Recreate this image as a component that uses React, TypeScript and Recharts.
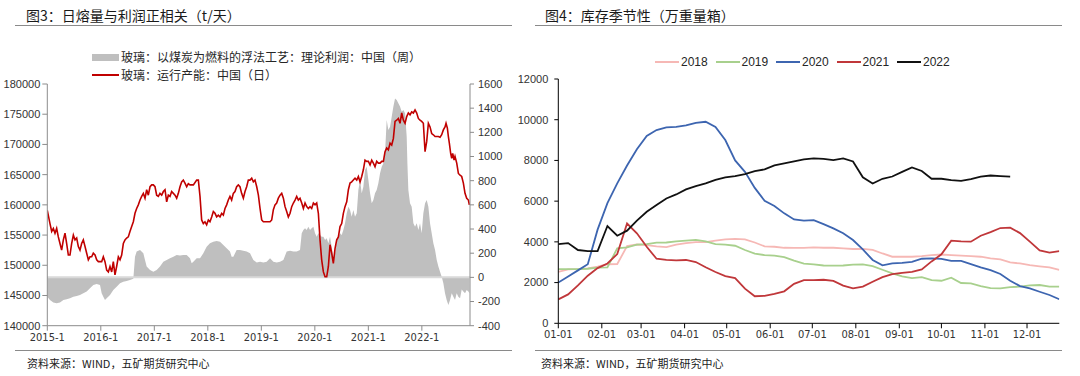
import React from 'react';
import { ComposedChart, LineChart, Line, Area, XAxis, YAxis, ReferenceLine } from 'recharts';

// ---------- Left chart data (years since 2015-01) ----------
const capYears = [
  0.000, 0.050, 0.082, 0.113, 0.144, 0.175, 0.206, 0.237, 0.268, 0.300, 0.331, 0.362, 0.393, 0.424, 0.455, 0.487,
  0.518, 0.549, 0.580, 0.611, 0.642, 0.673, 0.705, 0.736, 0.767, 0.798, 0.829, 0.860, 0.892, 0.923, 0.954, 1.016,
  1.047, 1.078, 1.110, 1.141, 1.172, 1.203, 1.234, 1.265, 1.296, 1.328, 1.359, 1.390, 1.421, 1.452, 1.483, 1.514,
  1.545, 1.577, 1.608, 1.639, 1.670, 1.701, 1.733, 1.764, 1.795, 1.826, 1.857, 1.888, 1.920, 1.951, 1.982, 2.013,
  2.044, 2.075, 2.106, 2.138, 2.169, 2.200, 2.231, 2.262, 2.293, 2.324, 2.356, 2.387, 2.418, 2.449, 2.480, 2.511,
  2.542, 2.573, 2.605, 2.636, 2.667, 2.730, 2.792, 2.823, 2.854, 2.885, 2.916, 2.947, 2.978, 3.010, 3.040, 3.072,
  3.103, 3.134, 3.165, 3.196, 3.228, 3.259, 3.290, 3.321, 3.352, 3.383, 3.414, 3.445, 3.477, 3.508, 3.539, 3.570,
  3.601, 3.632, 3.664, 3.695, 3.726, 3.757, 3.788, 3.820, 3.851, 3.882, 3.914, 3.945, 3.976, 4.007, 4.038, 4.100,
  4.163, 4.194, 4.225, 4.256, 4.287, 4.318, 4.350, 4.381, 4.412, 4.443, 4.474, 4.505, 4.537, 4.568, 4.599, 4.630,
  4.661, 4.692, 4.723, 4.755, 4.786, 4.817, 4.848, 4.879, 4.910, 4.941, 4.973, 5.004, 5.035, 5.066, 5.097, 5.128,
  5.160, 5.191, 5.222, 5.253, 5.272, 5.284, 5.315, 5.346, 5.378, 5.409, 5.440, 5.471, 5.502, 5.533, 5.564, 5.596,
  5.627, 5.658, 5.689, 5.720, 5.751, 5.783, 5.814, 5.845, 5.876, 5.907, 5.938, 5.969, 6.001, 6.032, 6.063, 6.094,
  6.125, 6.156, 6.187, 6.219, 6.250, 6.281, 6.312, 6.343, 6.374, 6.406, 6.437, 6.468, 6.499, 6.530, 6.561, 6.592,
  6.624, 6.655, 6.686, 6.717, 6.748, 6.779, 6.810, 6.842, 6.873, 6.904, 6.935, 6.966, 6.997, 7.028, 7.060, 7.091,
  7.122, 7.153, 7.184, 7.215, 7.247, 7.278, 7.309, 7.340, 7.371, 7.402, 7.433, 7.452, 7.477, 7.496, 7.514, 7.539,
  7.558, 7.577, 7.602, 7.620, 7.652, 7.683, 7.714, 7.745, 7.776, 7.807, 7.838, 7.870, 7.888,
];
const capValues = [
  159100, 156900, 155600, 156100, 155300, 156100, 154700, 153600, 152500, 154200, 155300, 153600, 151700, 151700, 153600, 155000,
  154200, 154500, 153100, 152500, 153600, 154200, 153100, 152000, 150900, 151400, 151400, 152000, 151700, 150900, 150600, 150600,
  151400, 150600, 149200, 148900, 149800, 148900, 150600, 148400, 149800, 151400, 150900, 151700, 153600, 154200, 154500, 154700,
  155600, 156400, 157200, 158600, 159400, 160000, 160800, 161400, 161900, 161100, 162500, 161600, 163000, 163300, 163300, 163000,
  161600, 161400, 161900, 161600, 162200, 162500, 160500, 161600, 161400, 162200, 161900, 161600, 161100, 161900, 163000, 163800,
  164100, 163600, 163000, 163500, 163300, 163300, 164100, 164100, 161400, 157500, 156900, 157200, 156700, 157500, 157200, 158000,
  158900, 158600, 158000, 158300, 158000, 158600, 158300, 159400, 160000, 160800, 161400, 160800, 161900, 162200, 163000, 163300,
  163000, 161900, 161100, 162200, 163000, 164100, 164100, 164400, 163800, 164100, 163000, 161600, 159400, 157500, 157200, 157200,
  157200, 157500, 159200, 160000, 160300, 161100, 161600, 161900, 161100, 159700, 158900, 158000, 158600, 159700, 160300, 160800,
  161400, 160800, 161100, 160300, 159400, 160300, 159700, 159400, 159700, 159400, 160300, 160000, 160300, 158600, 154200, 150900,
  148900, 148100, 148100, 149800, 152000, 153400, 152000, 150300, 152800, 154200, 154700, 156400, 156900, 158600, 159700, 160500,
  162500, 163600, 163800, 164100, 164400, 164100, 164700, 163800, 164700, 165800, 167400, 167200, 167200, 166600, 167400, 166900,
  166300, 167200, 166900, 166900, 167200, 167200, 168800, 169400, 169100, 170200, 169900, 171000, 173800, 174000, 174300, 173500,
  175200, 174000, 173500, 174600, 175200, 174900, 175400, 175200, 175700, 175200, 174300, 174000, 173800, 173500, 168800, 170500,
  173500, 172900, 171800, 171600, 171300, 171300, 171300, 171200, 171600, 172400, 172900, 173500, 172700, 171300, 170200, 168500,
  167700, 168500, 167400, 168000, 166900, 165200, 164900, 164700, 163600, 161900, 161100, 160800, 160000,
];

const profitYears = [
  0.000, 0.050, 0.113, 0.175, 0.237, 0.300, 0.362, 0.424, 0.487, 0.549, 0.611, 0.673, 0.736, 0.798, 0.860, 0.923,
  0.985, 1.016, 1.047, 1.078, 1.110, 1.172, 1.234, 1.296, 1.359, 1.421, 1.483, 1.545, 1.608, 1.639, 1.670, 1.733,
  1.795, 1.826, 1.857, 1.920, 1.982, 2.044, 2.106, 2.169, 2.231, 2.293, 2.356, 2.418, 2.480, 2.542, 2.605, 2.667,
  2.698, 2.730, 2.792, 2.854, 2.916, 2.978, 3.040, 3.103, 3.165, 3.228, 3.290, 3.352, 3.414, 3.445, 3.477, 3.539,
  3.601, 3.664, 3.726, 3.789, 3.851, 3.914, 3.976, 4.038, 4.100, 4.163, 4.225, 4.287, 4.350, 4.412, 4.474, 4.537,
  4.599, 4.661, 4.723, 4.755, 4.786, 4.817, 4.848, 4.879, 4.910, 4.941, 4.973, 5.004, 5.035, 5.066, 5.097, 5.128,
  5.160, 5.191, 5.222, 5.253, 5.284, 5.315, 5.346, 5.378, 5.409, 5.440, 5.471, 5.502, 5.533, 5.564, 5.596, 5.627,
  5.658, 5.689, 5.720, 5.751, 5.783, 5.814, 5.845, 5.876, 5.907, 5.938, 5.969, 6.001, 6.032, 6.063, 6.094, 6.125,
  6.156, 6.187, 6.219, 6.250, 6.281, 6.312, 6.343, 6.374, 6.406, 6.437, 6.468, 6.499, 6.530, 6.561, 6.592, 6.624,
  6.655, 6.686, 6.717, 6.730, 6.748, 6.779, 6.810, 6.842, 6.873, 6.904, 6.935, 6.966, 6.997, 7.028, 7.060, 7.091,
  7.122, 7.153, 7.184, 7.215, 7.247, 7.278, 7.309, 7.340, 7.371, 7.402, 7.433, 7.464, 7.496, 7.527, 7.558, 7.589,
  7.620, 7.651, 7.682, 7.714, 7.745, 7.776, 7.807, 7.838, 7.870, 7.888,
];
const profitValues = [
  -160, -187, -209, -215, -209, -187, -182, -173, -160, -154, -146, -132, -118, -91, -63, -55,
  -63, -132, -160, -187, -173, -146, -105, -77, -49, -36, -30, -22, -11, 171, 213, 226,
  199, 144, 89, 61, 47, 61, 89, 130, 144, 158, 171, 185, 180, 185, 185, 158,
  116, 130, 158, 158, 199, 254, 282, 295, 301, 295, 268, 240, 213, 171, 171, 226,
  226, 220, 213, 199, 144, 122, 130, 122, 130, 158, 130, 122, 130, 144, 213, 221,
  213, 213, 226, 364, 392, 406, 392, 419, 392, 406, 419, 364, 337, 364, 351, 337,
  337, 309, 323, 282, 337, 254, 171, 199, 309, 337, 364, 350, 392, 447, 530, 585,
  558, 502, 558, 502, 530, 723, 806, 695, 750, 888, 916, 806, 695, 613, 640, 695,
  723, 778, 861, 916, 944, 1026, 1302, 1219, 1247, 1330, 1413, 1481, 1468, 1440, 1413, 1371,
  1385, 1357, 1164, 944, 723, 613, 585, 447, 419, 447, 392, 447, 364, 530, 613, 640,
  585, 447, 364, 282, 226, 144, 89, 47, 6, -49, -132, -187, -229, -187, -132, -160,
  -187, -132, -160, -173, -100, -118, -132, -104, -118, -132,
];

const leftXTicks = [0, 1, 2, 3, 4, 5, 6, 7];
const leftXLabels = ['2015-1', '2016-1', '2017-1', '2018-1', '2019-1', '2020-1', '2021-1', '2022-1'];
const leftYTicks = [140000, 145000, 150000, 155000, 160000, 165000, 170000, 175000, 180000];
const rightYTicks = [-400, -200, 0, 200, 400, 600, 800, 1000, 1200, 1400, 1600];
const leftSeriesNames = ['玻璃：以煤炭为燃料的浮法工艺：理论利润：中国（周）', '玻璃：运行产能：中国（日）'];

// ---------- Right chart data (weekly, day of year) ----------
const weekDays = [
  0, 7, 14, 21, 28, 35, 42, 49, 56, 63, 70, 77, 84, 91, 98, 105, 112, 119, 126, 133, 140, 147, 154, 161, 168, 175,
  182, 189, 196, 203, 210, 217, 224, 231, 238, 245, 252, 259, 266, 273, 280, 287, 294, 301, 308, 315, 322, 329, 336, 343, 350, 357,
];
const s2018 = [
  2530, 2650, 2660, 2700, 2780, 2900, 2910, 3790, 3870, 3840, 3780, 3740, 3860, 3940, 3990, 3990, 4060, 4120, 4150, 4120, 3970, 3780, 3760, 3710, 3700, 3700,
  3730, 3710, 3710, 3680, 3650, 3660, 3610, 3430, 3270, 3270, 3270, 3300, 3350, 3380, 3350, 3320, 3300, 3270, 3190, 3140, 2990, 2940, 2860, 2800, 2750, 2620,
];
const s2019 = [
  2660, 2660, 2660, 2680, 2730, 2750, 3680, 3730, 3860, 3890, 3960, 3970, 4020, 4060, 4100, 4020, 3890, 3860, 3810, 3600, 3420, 3350, 3320, 3250, 3080, 2930,
  2890, 2840, 2830, 2840, 2880, 2890, 2810, 2630, 2450, 2300, 2220, 2270, 2120, 2090, 2240, 1980, 1960, 1830, 1730, 1720, 1780, 1800, 1860, 1880, 1800, 1800,
];
const s2020 = [
  2000, 2300, 2600, 2900, 4600, 5900, 6870, 7750, 8550, 9200, 9490, 9620, 9650, 9720, 9850, 9900, 9650, 9000, 8000, 7440, 6650, 6020, 5760, 5400, 5100, 5040,
  5070, 4870, 4660, 4420, 4090, 3630, 3110, 2850, 2940, 2970, 3020, 3170, 3190, 3160, 3070, 3070, 2910, 2750, 2610, 2420, 2090, 1830, 1720, 1550, 1390, 1180,
];
const s2021 = [
  1170, 1420, 1860, 2340, 2710, 2940, 3400, 4900, 4420, 3760, 3170, 3120, 3090, 3110, 3010, 2750, 2520, 2320, 2220, 1700, 1330, 1350, 1440, 1570, 1940, 2120,
  2120, 2140, 2080, 1850, 1720, 1800, 2040, 2270, 2420, 2480, 2530, 2650, 3040, 3390, 4060, 4020, 4010, 4300, 4480, 4680, 4700, 4430, 4010, 3580, 3470, 3550,
];
const s2022 = [
  3890, 3940, 3600, 3550, 3550, 4780, 4300, 4550, 5040, 5480, 5810, 6130, 6330, 6580, 6740, 6870, 7040, 7170, 7230, 7330, 7480, 7560, 7760, 7850, 7950, 8050,
  8100, 8080, 8020, 8100, 7950, 7170, 6870, 7100, 7210, 7440, 7660, 7480, 7100, 7100, 7030, 7000, 7080, 7200, 7260, 7230, 7200,
];
const yearNames = ['2018', '2019', '2020', '2021', '2022'];
const yearColors = ['#F6B8B5', '#A8D08D', '#3D65B0', '#C0373A', '#111111'];
const monthTicks = [0, 31, 59, 90, 120, 151, 181, 212, 243, 273, 304, 334];
const monthLabels = ['01-01', '02-01', '03-01', '04-01', '05-01', '06-01', '07-01', '08-01', '09-01', '10-01', '11-01', '12-01'];
const rightYTicksR = [0, 2000, 4000, 6000, 8000, 10000, 12000];

const capData = capYears.map((t, i) => ({ t, v: capValues[i] }));
const profitData = profitYears.map((t, i) => ({ t, v: profitValues[i] }));
const seasonSeries = [s2018, s2019, s2020, s2021, s2022];
const seasonData = weekDays.map((d, i) => {
  const row: any = { day: d };
  yearNames.forEach((n, j) => {
    row['y' + n] = i < seasonSeries[j].length ? seasonSeries[j][i] : null;
  });
  return row;
});

const cjk = '"Noto Sans CJK SC", "Noto Sans", sans-serif';
const numFont = '"Liberation Sans", Arial, sans-serif';
const narrowFont = '"Liberation Sans Narrow", "DejaVu Sans Condensed", "Liberation Sans", sans-serif';

const abs = (s: React.CSSProperties): React.CSSProperties => ({ position: 'absolute', ...s });

export default function App() {
  const grayAxis = '#8C8C8C';
  return (
    <div style={{ position: 'absolute', left: 0, top: 0, width: 1080, height: 376, background: '#fff', overflow: 'hidden' }}>
      {/* titles */}
      <div style={abs({ left: 26, top: 6, fontFamily: cjk, fontSize: 14, lineHeight: '18px', color: '#1a1a1a', whiteSpace: 'nowrap' })}>图3：日熔量与利润正相关（t/天）</div>
      <div style={abs({ left: 545, top: 6, fontFamily: cjk, fontSize: 14, lineHeight: '18px', color: '#1a1a1a', whiteSpace: 'nowrap' })}>图4：库存季节性（万重量箱）</div>
      <div style={abs({ left: 15, top: 24.5, width: 497, height: 1.2, background: '#8a8a8a' })} />
      <div style={abs({ left: 535, top: 24.5, width: 527, height: 1.2, background: '#8a8a8a' })} />
      <div style={abs({ left: 15, top: 349.5, width: 497, height: 1.2, background: '#8a8a8a' })} />
      <div style={abs({ left: 535, top: 349.5, width: 527, height: 1.2, background: '#8a8a8a' })} />
      <div style={abs({ left: 27, top: 356, fontFamily: cjk, fontSize: 11, lineHeight: '14px', color: '#222', whiteSpace: 'nowrap' })}>资料来源：WIND，五矿期货研究中心</div>
      <div style={abs({ left: 541, top: 356, fontFamily: cjk, fontSize: 11, lineHeight: '14px', color: '#222', whiteSpace: 'nowrap' })}>资料来源：WIND，五矿期货研究中心</div>

      {/* left legend */}
      <div style={abs({ left: 92, top: 53.5, width: 27, height: 7, background: '#BFBFBF' })} />
      <div style={abs({ left: 121, top: 49, fontFamily: cjk, fontSize: 12, lineHeight: '16px', color: '#262626', whiteSpace: 'nowrap' })}>{leftSeriesNames[0]}</div>
      <div style={abs({ left: 92, top: 73.5, width: 27, height: 2, background: '#C00000' })} />
      <div style={abs({ left: 121, top: 66.5, fontFamily: cjk, fontSize: 12, lineHeight: '16px', color: '#262626', whiteSpace: 'nowrap' })}>{leftSeriesNames[1]}</div>

      {/* right legend */}
      {yearNames.map((n, i) => (
        <React.Fragment key={n}>
          <div style={abs({ left: 655 + 60.5 * i, top: 61, width: 24, height: 2, background: yearColors[i] })} />
          <div style={abs({ left: 681 + 60.5 * i, top: 54.5, fontFamily: numFont, fontSize: 12, lineHeight: '15px', color: '#262626' })}>{n}</div>
        </React.Fragment>
      ))}

      {/* left chart */}
      <div style={abs({ left: 0, top: 0 })}>
        <ComposedChart width={520} height={376} margin={{ top: 84, right: 5, bottom: 30.3, left: 0 }}>
          <XAxis
            xAxisId="x"
            dataKey="t"
            type="number"
            domain={[0, 7.9]}
            ticks={leftXTicks}
            tickFormatter={(v: number) => leftXLabels[v] ?? ''}
            height={20}
            tickSize={5}
            tickMargin={2}
            stroke={grayAxis}
            tick={{ fill: '#333', fontSize: 11, fontFamily: narrowFont }}
            allowDataOverflow
          />
          <YAxis
            yAxisId="l"
            orientation="left"
            type="number"
            domain={[140000, 180000]}
            ticks={leftYTicks}
            width={47.3}
            tickSize={5}
            tickMargin={2}
            stroke={grayAxis}
            tick={{ fill: '#333', fontSize: 11, fontFamily: numFont }}
            allowDataOverflow
          />
          <YAxis
            yAxisId="r"
            orientation="right"
            type="number"
            domain={[-400, 1600]}
            ticks={rightYTicks}
            width={45}
            tickSize={4}
            tickMargin={4}
            stroke={grayAxis}
            tick={{ fill: '#333', fontSize: 11, fontFamily: numFont }}
            allowDataOverflow
          />
          <Area
            xAxisId="x"
            yAxisId="r"
            data={profitData}
            dataKey="v"
            type="linear"
            fill="#BFBFBF"
            fillOpacity={1}
            stroke="none"
            baseValue={0}
            isAnimationActive={false}
          />
          <ReferenceLine xAxisId="x" yAxisId="r" y={0} stroke="#D9D9D9" strokeWidth={2} />
          <Line
            xAxisId="x"
            yAxisId="l"
            data={capData}
            dataKey="v"
            type="linear"
            stroke="#C00000"
            strokeWidth={1.6}
            dot={false}
            isAnimationActive={false}
          />
        </ComposedChart>
      </div>

      {/* right chart */}
      <div style={abs({ left: 500, top: 0 })}>
        <LineChart width={580} height={376} data={seasonData} margin={{ top: 79, right: 20.7, bottom: 32.7, left: 0 }}>
          <XAxis
            dataKey="day"
            type="number"
            domain={[0, 357]}
            ticks={monthTicks}
            tickFormatter={(v: number) => monthLabels[monthTicks.indexOf(v)] ?? ''}
            height={20}
            tickSize={5}
            tickMargin={2}
            stroke="#000"
            tick={{ fill: '#333', fontSize: 11, fontFamily: narrowFont }}
            allowDataOverflow
          />
          <YAxis
            type="number"
            domain={[0, 12000]}
            ticks={rightYTicksR}
            width={58.3}
            tickSize={4}
            tickMargin={6}
            stroke="#000"
            tick={{ fill: '#333', fontSize: 11, fontFamily: numFont }}
            allowDataOverflow
          />
          {yearNames.map((n, i) => (
            <Line
              key={n}
              dataKey={'y' + n}
              type="linear"
              stroke={yearColors[i]}
              strokeWidth={1.8}
              dot={false}
              connectNulls={false}
              isAnimationActive={false}
            />
          ))}
        </LineChart>
      </div>
    </div>
  );
}
